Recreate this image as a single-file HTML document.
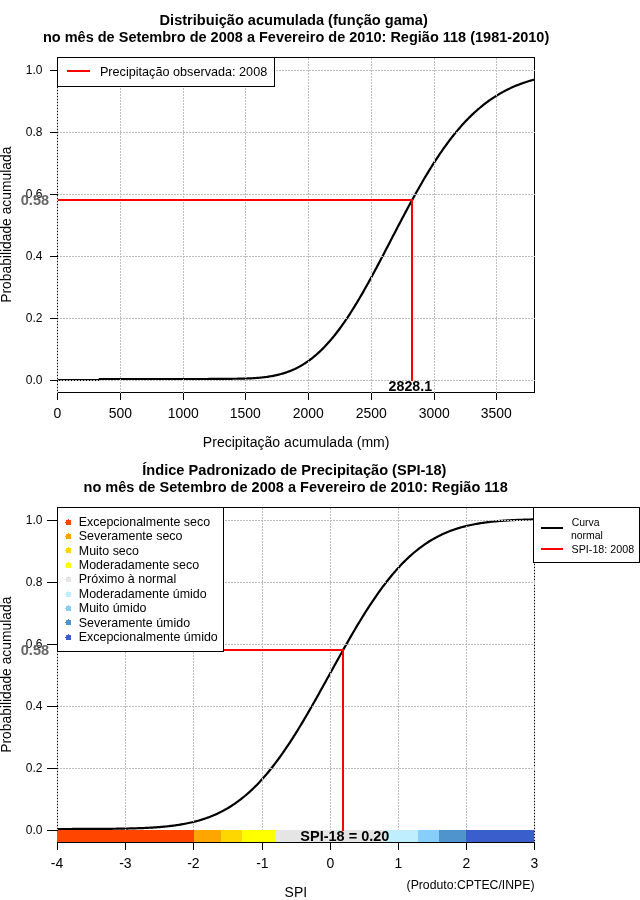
<!DOCTYPE html>
<html lang="pt-BR"><head><meta charset="utf-8"><title>SPI-18 Região 118</title>
<style>
html,body{margin:0;padding:0;background:#fff;}
body{width:640px;height:900px;overflow:hidden;}
svg{display:block;will-change:transform;font-family:"Liberation Sans",Arial,Helvetica,sans-serif;fill:#000;}
.g{stroke:#bebebe;stroke-width:1;stroke-dasharray:2 1;fill:none;shape-rendering:crispEdges;}
.k{stroke:#000;stroke-width:1;fill:none;shape-rendering:crispEdges;}
.c{stroke:#000;stroke-width:2.2;fill:none;stroke-linejoin:round;}
.r{stroke:#ff0000;stroke-width:2;fill:none;shape-rendering:crispEdges;}
</style></head><body>
<svg width="640" height="900" viewBox="0 0 640 900">
<rect x="0" y="0" width="640" height="900" fill="#ffffff"/>
<g id="chart1">
<text x="159.56" y="25" font-size="15.5" font-weight="bold" fill="#000" textLength="268.22" lengthAdjust="spacingAndGlyphs">Distribuição acumulada (função gama)</text>
<text x="42.96" y="42" font-size="15.5" font-weight="bold" fill="#000" textLength="506.28" lengthAdjust="spacingAndGlyphs">no mês de Setembro de 2008 a Fevereiro de 2010: Região 118 (1981-2010)</text>
<rect class="k" x="57.5" y="57.5" width="477.0" height="335.0"/>
<polyline class="c" transform="translate(-0.5,-0.5)" points="57.5,380.5 100.17,380.5 100.18,379.5 100.81,379.5 101.95,379.5 103.1,379.5 104.24,379.5 105.38,379.5 106.53,379.5 107.67,379.5 108.82,379.5 109.96,379.5 111.11,379.5 112.25,379.5 113.39,379.5 114.54,379.5 115.68,379.5 116.83,379.5 117.97,379.5 119.12,379.5 120.26,379.5 121.4,379.5 122.55,379.5 123.69,379.5 124.84,379.5 125.98,379.5 127.13,379.5 128.27,379.5 129.41,379.5 130.56,379.5 131.7,379.5 132.85,379.5 133.99,379.5 135.14,379.5 136.28,379.5 137.42,379.5 138.57,379.5 139.71,379.5 140.86,379.5 142,379.5 143.15,379.5 144.29,379.5 145.43,379.5 146.58,379.5 147.72,379.5 148.87,379.5 150.01,379.5 151.16,379.5 152.3,379.5 153.44,379.5 154.59,379.5 155.73,379.5 156.88,379.5 158.02,379.5 159.17,379.5 160.31,379.5 161.45,379.5 162.6,379.5 163.74,379.5 164.89,379.5 166.03,379.5 167.18,379.5 168.32,379.5 169.47,379.5 170.61,379.5 171.75,379.5 172.9,379.5 174.04,379.5 175.19,379.5 176.33,379.5 177.48,379.5 178.62,379.5 179.76,379.5 180.91,379.5 182.05,379.5 183.2,379.5 184.34,379.5 185.49,379.5 186.63,379.5 187.77,379.5 188.92,379.5 190.06,379.5 191.21,379.5 192.35,379.5 193.5,379.5 194.64,379.5 195.78,379.49 196.93,379.49 198.07,379.49 199.22,379.49 200.36,379.49 201.51,379.49 202.65,379.49 203.79,379.49 204.94,379.48 206.08,379.48 207.23,379.48 208.37,379.48 209.52,379.47 210.66,379.47 211.8,379.47 212.95,379.46 214.09,379.46 215.24,379.45 216.38,379.45 217.53,379.44 218.67,379.44 219.81,379.43 220.96,379.42 222.1,379.41 223.25,379.4 224.39,379.39 225.54,379.38 226.68,379.36 227.82,379.35 228.97,379.33 230.11,379.32 231.26,379.3 232.4,379.28 233.55,379.26 234.69,379.25 235.84,379.24 236.98,379.23 238.12,379.22 239.27,379.2 240.41,379.18 241.56,379.16 242.7,379.14 243.85,379.11 244.99,379.08 246.13,379.04 247.28,379 248.42,378.96 249.57,378.91 250.71,378.86 251.86,378.8 253,378.74 254.14,378.67 255.29,378.6 256.43,378.52 257.58,378.43 258.72,378.34 259.87,378.24 261.01,378.13 262.15,378.01 263.3,377.89 264.44,377.76 265.59,377.62 266.73,377.47 267.88,377.31 269.02,377.14 270.16,376.96 271.31,376.77 272.45,376.57 273.6,376.35 274.74,376.13 275.89,375.89 277.03,375.64 278.17,375.37 279.32,375.09 280.46,374.8 281.61,374.49 282.75,374.17 283.9,373.83 285.04,373.48 286.18,373.11 287.33,372.72 288.47,372.32 289.62,371.89 290.76,371.45 291.91,370.99 293.05,370.51 294.19,370.02 295.34,369.5 296.48,368.95 297.63,368.37 298.77,367.77 299.92,367.15 301.06,366.51 302.21,365.84 303.35,365.15 304.49,364.44 305.64,363.7 306.78,362.94 307.93,362.16 309.07,361.35 310.22,360.51 311.36,359.65 312.5,358.77 313.65,357.86 314.79,356.92 315.94,355.95 317.08,354.96 318.23,353.95 319.37,352.91 320.51,351.84 321.66,350.74 322.8,349.61 323.95,348.46 325.09,347.28 326.24,346.08 327.38,344.84 328.52,343.58 329.67,342.29 330.81,340.97 331.96,339.63 333.1,338.26 334.25,336.86 335.39,335.44 336.53,333.98 337.68,332.51 338.82,331 339.97,329.47 341.11,327.91 342.26,326.33 343.4,324.72 344.54,323.09 345.69,321.43 346.83,319.74 347.98,318.04 349.12,316.31 350.27,314.55 351.41,312.77 352.55,310.97 353.7,309.15 354.84,307.31 355.99,305.44 357.13,303.56 358.28,301.65 359.42,299.73 360.56,297.78 361.71,295.82 362.85,293.84 364,291.84 365.14,289.83 366.29,287.8 367.43,285.76 368.58,283.7 369.72,281.62 370.86,279.54 372.01,277.44 373.15,275.33 374.3,273.21 375.44,271.07 376.59,268.93 377.73,266.78 378.87,264.62 380.02,262.45 381.16,260.28 382.31,258.1 383.45,255.91 384.6,253.72 385.74,251.53 386.88,249.33 388.03,247.13 389.17,244.92 390.32,242.72 391.46,240.51 392.61,238.31 393.75,236.11 394.89,233.91 396.04,231.71 397.18,229.51 398.33,227.32 399.47,225.13 400.62,222.95 401.76,220.77 402.9,218.6 404.05,216.43 405.19,214.27 406.34,212.13 407.48,209.99 408.63,207.85 409.77,205.73 410.91,203.62 412.06,201.52 413.2,199.44 414.35,197.36 415.49,195.3 416.64,193.25 417.78,191.21 418.92,189.19 420.07,187.18 421.21,185.19 422.36,183.21 423.5,181.25 424.65,179.3 425.79,177.37 426.93,175.46 428.08,173.56 429.22,171.69 430.37,169.83 431.51,167.98 432.66,166.16 433.8,164.36 434.95,162.57 436.09,160.8 437.23,159.06 438.38,157.33 439.52,155.62 440.67,153.93 441.81,152.27 442.96,150.62 444.1,148.99 445.24,147.39 446.39,145.8 447.53,144.24 448.68,142.7 449.82,141.17 450.97,139.67 452.11,138.19 453.25,136.74 454.4,135.3 455.54,133.88 456.69,132.49 457.83,131.11 458.98,129.76 460.12,128.43 461.26,127.12 462.41,125.83 463.55,124.56 464.7,123.31 465.84,122.09 466.99,120.88 468.13,119.7 469.27,118.53 470.42,117.39 471.56,116.27 472.71,115.16 473.85,114.08 475,113.01 476.14,111.97 477.28,110.95 478.43,109.94 479.57,108.96 480.72,107.99 481.86,107.04 483.01,106.11 484.15,105.2 485.29,104.31 486.44,103.43 487.58,102.58 488.73,101.74 489.87,100.92 491.02,100.12 492.16,99.33 493.3,98.56 494.45,97.81 495.59,97.07 496.74,96.35 497.88,95.64 499.03,94.96 500.17,94.28 501.32,93.63 502.46,92.98 503.6,92.35 504.75,91.74 505.89,91.14 507.04,90.56 508.18,89.99 509.33,89.43 510.47,88.88 511.61,88.35 512.76,87.84 513.9,87.33 515.05,86.84 516.19,86.36 517.34,85.89 518.48,85.43 519.62,84.99 520.77,84.56 521.91,84.13 523.06,83.72 524.2,83.32 525.35,82.93 526.49,82.55 527.63,82.18 528.78,81.82 529.92,81.47 531.07,81.13 532.21,80.8 533.36,80.48 534.5,80.16"/>
<line class="g" x1="57.5" y1="57.5" x2="57.5" y2="392.5"/>
<line class="g" x1="120.5" y1="57.5" x2="120.5" y2="392.5"/>
<line class="g" x1="183.5" y1="57.5" x2="183.5" y2="392.5"/>
<line class="g" x1="245.5" y1="57.5" x2="245.5" y2="392.5"/>
<line class="g" x1="308.5" y1="57.5" x2="308.5" y2="392.5"/>
<line class="g" x1="371.5" y1="57.5" x2="371.5" y2="392.5"/>
<line class="g" x1="434.5" y1="57.5" x2="434.5" y2="392.5"/>
<line class="g" x1="496.5" y1="57.5" x2="496.5" y2="392.5"/>
<line class="g" x1="57.0" y1="380.5" x2="534.5" y2="380.5"/>
<line class="g" x1="57.0" y1="318.5" x2="534.5" y2="318.5"/>
<line class="g" x1="57.0" y1="256.5" x2="534.5" y2="256.5"/>
<line class="g" x1="57.0" y1="194.5" x2="534.5" y2="194.5"/>
<line class="g" x1="57.0" y1="132.5" x2="534.5" y2="132.5"/>
<line class="g" x1="57.0" y1="70.5" x2="534.5" y2="70.5"/>
<polyline class="r" points="58.0,200 412,200 412,381"/>
<line class="k" x1="57.5" y1="392.5" x2="57.5" y2="400.0"/>
<text x="53.45" y="418" font-size="15.5" textLength="7.76" lengthAdjust="spacingAndGlyphs">0</text>
<line class="k" x1="120.5" y1="392.5" x2="120.5" y2="400.0"/>
<text x="108.8" y="418" font-size="15.5" textLength="23.29" lengthAdjust="spacingAndGlyphs">500</text>
<line class="k" x1="183.5" y1="392.5" x2="183.5" y2="400.0"/>
<text x="167.75" y="418" font-size="15.5" textLength="31.04" lengthAdjust="spacingAndGlyphs">1000</text>
<line class="k" x1="245.5" y1="392.5" x2="245.5" y2="400.0"/>
<text x="229.75" y="418" font-size="15.5" textLength="31.04" lengthAdjust="spacingAndGlyphs">1500</text>
<line class="k" x1="308.5" y1="392.5" x2="308.5" y2="400.0"/>
<text x="292.75" y="418" font-size="15.5" textLength="31.04" lengthAdjust="spacingAndGlyphs">2000</text>
<line class="k" x1="371.5" y1="392.5" x2="371.5" y2="400.0"/>
<text x="355.75" y="418" font-size="15.5" textLength="31.04" lengthAdjust="spacingAndGlyphs">2500</text>
<line class="k" x1="434.5" y1="392.5" x2="434.5" y2="400.0"/>
<text x="418.75" y="418" font-size="15.5" textLength="31.04" lengthAdjust="spacingAndGlyphs">3000</text>
<line class="k" x1="496.5" y1="392.5" x2="496.5" y2="400.0"/>
<text x="480.75" y="418" font-size="15.5" textLength="31.04" lengthAdjust="spacingAndGlyphs">3500</text>
<line class="k" x1="50.0" y1="380.5" x2="57.5" y2="380.5"/>
<text x="25.78" y="384" font-size="13.0" textLength="16.7" lengthAdjust="spacingAndGlyphs">0.0</text>
<line class="k" x1="50.0" y1="318.5" x2="57.5" y2="318.5"/>
<text x="25.78" y="322" font-size="13.0" textLength="16.7" lengthAdjust="spacingAndGlyphs">0.2</text>
<line class="k" x1="50.0" y1="256.5" x2="57.5" y2="256.5"/>
<text x="25.78" y="260" font-size="13.0" textLength="16.7" lengthAdjust="spacingAndGlyphs">0.4</text>
<line class="k" x1="50.0" y1="194.5" x2="57.5" y2="194.5"/>
<text x="25.78" y="198" font-size="13.0" textLength="16.7" lengthAdjust="spacingAndGlyphs">0.6</text>
<line class="k" x1="50.0" y1="132.5" x2="57.5" y2="132.5"/>
<text x="25.78" y="136" font-size="13.0" textLength="16.7" lengthAdjust="spacingAndGlyphs">0.8</text>
<line class="k" x1="50.0" y1="70.5" x2="57.5" y2="70.5"/>
<text x="25.78" y="74" font-size="13.0" textLength="16.7" lengthAdjust="spacingAndGlyphs">1.0</text>
<text x="20.76" y="205" font-size="15.5" font-weight="bold" fill="#666666" textLength="28.3" lengthAdjust="spacingAndGlyphs">0.58</text>
<text x="388.58" y="391" font-size="15.5" font-weight="bold" fill="#000" textLength="43.5" lengthAdjust="spacingAndGlyphs">2828.1</text>
<text x="202.84" y="447" font-size="15.5" font-weight="normal" fill="#000" textLength="186.66" lengthAdjust="spacingAndGlyphs">Precipitação acumulada (mm)</text>
<text transform="translate(11,302.79) rotate(-90)" font-size="15.5" font-weight="normal" fill="#000" textLength="156.14" lengthAdjust="spacingAndGlyphs">Probabilidade acumulada</text>
<rect x="57.5" y="57.5" width="217" height="29" class="k" style="fill:#fff"/>
<line class="r" x1="67" y1="71" x2="90" y2="71"/>
<text x="99.93" y="76" font-size="13.0" font-weight="normal" fill="#000" textLength="167.29" lengthAdjust="spacingAndGlyphs">Precipitação observada: 2008</text>
</g>
<g id="chart2">
<text x="142.31" y="475" font-size="15.5" font-weight="bold" fill="#000" textLength="304.15" lengthAdjust="spacingAndGlyphs">Índice Padronizado de Precipitação (SPI-18)</text>
<text x="83.56" y="492" font-size="15.5" font-weight="bold" fill="#000" textLength="424.23" lengthAdjust="spacingAndGlyphs">no mês de Setembro de 2008 a Fevereiro de 2010: Região 118</text>
<rect class="k" x="57.5" y="507.5" width="477.0" height="335.0"/>
<polyline class="c" transform="translate(-0.5,-1.5)" points="57.5,830.49 58.7,830.49 59.89,830.49 61.09,830.49 62.29,830.49 63.48,830.49 64.68,830.48 65.88,830.48 67.07,830.48 68.27,830.48 69.46,830.48 70.66,830.48 71.86,830.48 73.05,830.47 74.25,830.47 75.45,830.47 76.64,830.47 77.84,830.47 79.04,830.46 80.23,830.46 81.43,830.46 82.63,830.46 83.82,830.45 85.02,830.45 86.22,830.45 87.41,830.44 88.61,830.44 89.81,830.43 91,830.43 92.2,830.43 93.39,830.42 94.59,830.42 95.79,830.41 96.98,830.4 98.18,830.4 99.38,830.39 100.57,830.38 101.77,830.38 102.97,830.37 104.16,830.36 105.36,830.35 106.56,830.34 107.75,830.33 108.95,830.32 110.15,830.31 111.34,830.29 112.54,830.28 113.74,830.27 114.93,830.25 116.13,830.24 117.32,830.22 118.52,830.21 119.72,830.19 120.91,830.17 122.11,830.15 123.31,830.13 124.5,830.11 125.7,830.08 126.9,830.06 128.09,830.03 129.29,830 130.49,829.97 131.68,829.94 132.88,829.91 134.08,829.88 135.27,829.84 136.47,829.81 137.66,829.77 138.86,829.72 140.06,829.68 141.25,829.64 142.45,829.59 143.65,829.54 144.84,829.49 146.04,829.43 147.24,829.37 148.43,829.31 149.63,829.25 150.83,829.18 152.02,829.11 153.22,829.04 154.42,828.96 155.61,828.88 156.81,828.8 158.01,828.71 159.2,828.62 160.4,828.53 161.59,828.43 162.79,828.32 163.99,828.21 165.18,828.1 166.38,827.98 167.58,827.86 168.77,827.73 169.97,827.6 171.17,827.46 172.36,827.31 173.56,827.16 174.76,827 175.95,826.84 177.15,826.67 178.35,826.49 179.54,826.3 180.74,826.11 181.94,825.91 183.13,825.7 184.33,825.49 185.52,825.27 186.72,825.03 187.92,824.79 189.11,824.54 190.31,824.28 191.51,824.01 192.7,823.74 193.9,823.45 195.1,823.15 196.29,822.84 197.49,822.52 198.69,822.19 199.88,821.84 201.08,821.49 202.28,821.12 203.47,820.75 204.67,820.35 205.86,819.95 207.06,819.53 208.26,819.1 209.45,818.66 210.65,818.2 211.85,817.73 213.04,817.24 214.24,816.74 215.44,816.22 216.63,815.68 217.83,815.14 219.03,814.57 220.22,813.99 221.42,813.39 222.62,812.78 223.81,812.14 225.01,811.49 226.21,810.83 227.4,810.14 228.6,809.44 229.79,808.71 230.99,807.97 232.19,807.21 233.38,806.43 234.58,805.63 235.78,804.81 236.97,803.97 238.17,803.11 239.37,802.22 240.56,801.32 241.76,800.4 242.96,799.45 244.15,798.49 245.35,797.5 246.55,796.49 247.74,795.46 248.94,794.4 250.14,793.33 251.33,792.23 252.53,791.11 253.72,789.96 254.92,788.8 256.12,787.61 257.31,786.4 258.51,785.16 259.71,783.9 260.9,782.62 262.1,781.32 263.3,779.99 264.49,778.64 265.69,777.27 266.89,775.87 268.08,774.45 269.28,773.01 270.48,771.54 271.67,770.05 272.87,768.54 274.06,767.01 275.26,765.45 276.46,763.88 277.65,762.28 278.85,760.65 280.05,759.01 281.24,757.35 282.44,755.66 283.64,753.95 284.83,752.23 286.03,750.48 287.23,748.71 288.42,746.93 289.62,745.12 290.82,743.29 292.01,741.45 293.21,739.59 294.41,737.71 295.6,735.81 296.8,733.89 297.99,731.96 299.19,730.02 300.39,728.05 301.58,726.07 302.78,724.08 303.98,722.07 305.17,720.05 306.37,718.02 307.57,715.97 308.76,713.91 309.96,711.85 311.16,709.76 312.35,707.67 313.55,705.57 314.75,703.46 315.94,701.35 317.14,699.22 318.34,697.09 319.53,694.95 320.73,692.8 321.92,690.65 323.12,688.49 324.32,686.33 325.51,684.17 326.71,682.01 327.91,679.84 329.1,677.67 330.3,675.5 331.5,673.33 332.69,671.16 333.89,668.99 335.09,666.83 336.28,664.67 337.48,662.51 338.68,660.35 339.87,658.2 341.07,656.05 342.26,653.91 343.46,651.78 344.66,649.65 345.85,647.54 347.05,645.43 348.25,643.33 349.44,641.24 350.64,639.15 351.84,637.09 353.03,635.03 354.23,632.98 355.43,630.95 356.62,628.93 357.82,626.92 359.02,624.93 360.21,622.95 361.41,620.98 362.61,619.04 363.8,617.11 365,615.19 366.19,613.29 367.39,611.41 368.59,609.55 369.78,607.71 370.98,605.88 372.18,604.07 373.37,602.29 374.57,600.52 375.77,598.77 376.96,597.05 378.16,595.34 379.36,593.65 380.55,591.99 381.75,590.35 382.95,588.72 384.14,587.12 385.34,585.55 386.54,583.99 387.73,582.46 388.93,580.95 390.12,579.46 391.32,577.99 392.52,576.55 393.71,575.13 394.91,573.73 396.11,572.36 397.3,571.01 398.5,569.68 399.7,568.38 400.89,567.1 402.09,565.84 403.29,564.6 404.48,563.39 405.68,562.2 406.88,561.04 408.07,559.89 409.27,558.77 410.46,557.67 411.66,556.6 412.86,555.54 414.05,554.51 415.25,553.5 416.45,552.51 417.64,551.55 418.84,550.6 420.04,549.68 421.23,548.78 422.43,547.89 423.63,547.03 424.82,546.19 426.02,545.37 427.22,544.57 428.41,543.79 429.61,543.03 430.81,542.29 432,541.56 433.2,540.86 434.39,540.17 435.59,539.51 436.79,538.86 437.98,538.22 439.18,537.61 440.38,537.01 441.57,536.43 442.77,535.86 443.97,535.32 445.16,534.78 446.36,534.26 447.56,533.76 448.75,533.27 449.95,532.8 451.15,532.34 452.34,531.9 453.54,531.47 454.74,531.05 455.93,530.65 457.13,530.25 458.32,529.88 459.52,529.51 460.72,529.16 461.91,528.81 463.11,528.48 464.31,528.16 465.5,527.85 466.7,527.55 467.9,527.26 469.09,526.99 470.29,526.72 471.49,526.46 472.68,526.21 473.88,525.97 475.08,525.73 476.27,525.51 477.47,525.3 478.66,525.09 479.86,524.89 481.06,524.7 482.25,524.51 483.45,524.33 484.65,524.16 485.84,524 487.04,523.84 488.24,523.69 489.43,523.54 490.63,523.4 491.83,523.27 493.02,523.14 494.22,523.02 495.42,522.9 496.61,522.79 497.81,522.68 499.01,522.57 500.2,522.47 501.4,522.38 502.59,522.29 503.79,522.2 504.99,522.12 506.18,522.04 507.38,521.96 508.58,521.89 509.77,521.82 510.97,521.75 512.17,521.69 513.36,521.63 514.56,521.57 515.76,521.51 516.95,521.46 518.15,521.41 519.35,521.36 520.54,521.32 521.74,521.28 522.94,521.23 524.13,521.19 525.33,521.16 526.52,521.12 527.72,521.09 528.92,521.06 530.11,521.03 531.31,521 532.51,520.97 533.7,520.94 534.9,520.92"/>
<line class="g" x1="57.5" y1="507.5" x2="57.5" y2="842.5"/>
<line class="g" x1="125.5" y1="507.5" x2="125.5" y2="842.5"/>
<line class="g" x1="193.5" y1="507.5" x2="193.5" y2="842.5"/>
<line class="g" x1="262.5" y1="507.5" x2="262.5" y2="842.5"/>
<line class="g" x1="330.5" y1="507.5" x2="330.5" y2="842.5"/>
<line class="g" x1="398.5" y1="507.5" x2="398.5" y2="842.5"/>
<line class="g" x1="466.5" y1="507.5" x2="466.5" y2="842.5"/>
<line class="g" x1="534.5" y1="507.5" x2="534.5" y2="842.5"/>
<line class="g" x1="57.0" y1="830.5" x2="534.5" y2="830.5"/>
<line class="g" x1="57.0" y1="768.5" x2="534.5" y2="768.5"/>
<line class="g" x1="57.0" y1="706.5" x2="534.5" y2="706.5"/>
<line class="g" x1="57.0" y1="644.5" x2="534.5" y2="644.5"/>
<line class="g" x1="57.0" y1="582.5" x2="534.5" y2="582.5"/>
<line class="g" x1="57.0" y1="520.5" x2="534.5" y2="520.5"/>
<rect x="57" y="830" width="137" height="12" fill="#ff4500" shape-rendering="crispEdges"/>
<rect x="194" y="830" width="27" height="12" fill="#ffa500" shape-rendering="crispEdges"/>
<rect x="221" y="830" width="21" height="12" fill="#ffd700" shape-rendering="crispEdges"/>
<rect x="242" y="830" width="33" height="12" fill="#ffff00" shape-rendering="crispEdges"/>
<rect x="275" y="830" width="110" height="12" fill="#e5e5e5" shape-rendering="crispEdges"/>
<rect x="385" y="830" width="33" height="12" fill="#bfefff" shape-rendering="crispEdges"/>
<rect x="418" y="830" width="21" height="12" fill="#87cefa" shape-rendering="crispEdges"/>
<rect x="439" y="830" width="27" height="12" fill="#4f94cd" shape-rendering="crispEdges"/>
<rect x="466" y="830" width="68" height="12" fill="#3a5fcd" shape-rendering="crispEdges"/>
<polyline class="r" points="58.0,650 343,650 343,831"/>
<line class="k" x1="57.0" y1="842.5" x2="535.0" y2="842.5"/>
<line class="k" x1="57.5" y1="842.5" x2="57.5" y2="850.0"/>
<text x="50.75" y="868" font-size="15.5" textLength="12.42" lengthAdjust="spacingAndGlyphs">-4</text>
<line class="k" x1="125.5" y1="842.5" x2="125.5" y2="850.0"/>
<text x="119.2" y="868" font-size="15.5" textLength="12.42" lengthAdjust="spacingAndGlyphs">-3</text>
<line class="k" x1="193.5" y1="842.5" x2="193.5" y2="850.0"/>
<text x="187.2" y="868" font-size="15.5" textLength="12.42" lengthAdjust="spacingAndGlyphs">-2</text>
<line class="k" x1="262.5" y1="842.5" x2="262.5" y2="850.0"/>
<text x="256.2" y="868" font-size="15.5" textLength="12.42" lengthAdjust="spacingAndGlyphs">-1</text>
<line class="k" x1="330.5" y1="842.5" x2="330.5" y2="850.0"/>
<text x="326.45" y="868" font-size="15.5" textLength="7.76" lengthAdjust="spacingAndGlyphs">0</text>
<line class="k" x1="398.5" y1="842.5" x2="398.5" y2="850.0"/>
<text x="394.45" y="868" font-size="15.5" textLength="7.76" lengthAdjust="spacingAndGlyphs">1</text>
<line class="k" x1="466.5" y1="842.5" x2="466.5" y2="850.0"/>
<text x="462.45" y="868" font-size="15.5" textLength="7.76" lengthAdjust="spacingAndGlyphs">2</text>
<line class="k" x1="534.5" y1="842.5" x2="534.5" y2="850.0"/>
<text x="530.45" y="868" font-size="15.5" textLength="7.76" lengthAdjust="spacingAndGlyphs">3</text>
<line class="k" x1="47.0" y1="830.5" x2="57.5" y2="830.5"/>
<text x="25.78" y="834" font-size="13.0" textLength="16.7" lengthAdjust="spacingAndGlyphs">0.0</text>
<line class="k" x1="47.0" y1="768.5" x2="57.5" y2="768.5"/>
<text x="25.78" y="772" font-size="13.0" textLength="16.7" lengthAdjust="spacingAndGlyphs">0.2</text>
<line class="k" x1="47.0" y1="706.5" x2="57.5" y2="706.5"/>
<text x="25.78" y="710" font-size="13.0" textLength="16.7" lengthAdjust="spacingAndGlyphs">0.4</text>
<line class="k" x1="47.0" y1="644.5" x2="57.5" y2="644.5"/>
<text x="25.78" y="648" font-size="13.0" textLength="16.7" lengthAdjust="spacingAndGlyphs">0.6</text>
<line class="k" x1="47.0" y1="582.5" x2="57.5" y2="582.5"/>
<text x="25.78" y="586" font-size="13.0" textLength="16.7" lengthAdjust="spacingAndGlyphs">0.8</text>
<line class="k" x1="47.0" y1="520.5" x2="57.5" y2="520.5"/>
<text x="25.78" y="524" font-size="13.0" textLength="16.7" lengthAdjust="spacingAndGlyphs">1.0</text>
<text x="20.76" y="655" font-size="15.5" font-weight="bold" fill="#666666" textLength="28.3" lengthAdjust="spacingAndGlyphs">0.58</text>
<text x="300.31" y="841" font-size="15.5" font-weight="bold" fill="#000" textLength="89.14" lengthAdjust="spacingAndGlyphs">SPI-18 = 0.20</text>
<text x="284.6" y="897" font-size="15.5" font-weight="normal" fill="#000" textLength="22.54" lengthAdjust="spacingAndGlyphs">SPI</text>
<text x="406.56" y="889" font-size="13.0" font-weight="normal" fill="#000" textLength="127.97" lengthAdjust="spacingAndGlyphs">(Produto:CPTEC/INPE)</text>
<text transform="translate(11,752.79) rotate(-90)" font-size="15.5" font-weight="normal" fill="#000" textLength="156.14" lengthAdjust="spacingAndGlyphs">Probabilidade acumulada</text>
<rect x="57.5" y="507.5" width="166" height="144" class="k" style="fill:#fff"/>
<path d="M66 520h2v-1h1v1h2v5h-5v-2h-1v-1h1z" fill="#ff4500" shape-rendering="crispEdges"/>
<text x="78.79" y="526" font-size="13.0" textLength="131.35" lengthAdjust="spacingAndGlyphs">Excepcionalmente seco</text>
<path d="M66 534h2v-1h1v1h2v5h-5v-2h-1v-1h1z" fill="#ffa500" shape-rendering="crispEdges"/>
<text x="78.79" y="540" font-size="13.0" textLength="103.7" lengthAdjust="spacingAndGlyphs">Severamente seco</text>
<path d="M66 548h2v-1h1v1h2v5h-5v-2h-1v-1h1z" fill="#ffd700" shape-rendering="crispEdges"/>
<text x="78.79" y="555" font-size="13.0" textLength="60.15" lengthAdjust="spacingAndGlyphs">Muito seco</text>
<path d="M66 563h2v-1h1v1h2v5h-5v-2h-1v-1h1z" fill="#ffff00" shape-rendering="crispEdges"/>
<text x="78.79" y="569" font-size="13.0" textLength="120.29" lengthAdjust="spacingAndGlyphs">Moderadamente seco</text>
<path d="M66 577h2v-1h1v1h2v5h-5v-2h-1v-1h1z" fill="#e5e5e5" shape-rendering="crispEdges"/>
<text x="78.79" y="583" font-size="13.0" textLength="97.45" lengthAdjust="spacingAndGlyphs">Próximo à normal</text>
<path d="M66 592h2v-1h1v1h2v5h-5v-2h-1v-1h1z" fill="#bfefff" shape-rendering="crispEdges"/>
<text x="78.79" y="598" font-size="13.0" textLength="127.9" lengthAdjust="spacingAndGlyphs">Moderadamente úmido</text>
<path d="M66 606h2v-1h1v1h2v5h-5v-2h-1v-1h1z" fill="#87cefa" shape-rendering="crispEdges"/>
<text x="78.79" y="612" font-size="13.0" textLength="67.74" lengthAdjust="spacingAndGlyphs">Muito úmido</text>
<path d="M66 620h2v-1h1v1h2v5h-5v-2h-1v-1h1z" fill="#4f94cd" shape-rendering="crispEdges"/>
<text x="78.79" y="627" font-size="13.0" textLength="111.29" lengthAdjust="spacingAndGlyphs">Severamente úmido</text>
<path d="M66 635h2v-1h1v1h2v5h-5v-2h-1v-1h1z" fill="#3a5fcd" shape-rendering="crispEdges"/>
<text x="78.79" y="641" font-size="13.0" textLength="138.95" lengthAdjust="spacingAndGlyphs">Excepcionalmente úmido</text>
<rect x="533.5" y="507.5" width="106" height="55" class="k" style="fill:#fff"/>
<line class="k" style="stroke-width:2" x1="541" y1="528" x2="563" y2="528"/>
<line class="r" x1="541" y1="549" x2="563" y2="549"/>
<text x="571.69" y="526" font-size="11.5" font-weight="normal" fill="#000" textLength="27.93" lengthAdjust="spacingAndGlyphs">Curva</text>
<text x="570.89" y="539" font-size="11.5" font-weight="normal" fill="#000" textLength="31.96" lengthAdjust="spacingAndGlyphs">normal</text>
<text x="571.57" y="553" font-size="11.5" font-weight="normal" fill="#000" textLength="62.56" lengthAdjust="spacingAndGlyphs">SPI-18: 2008</text>
</g>
</svg></body></html>
